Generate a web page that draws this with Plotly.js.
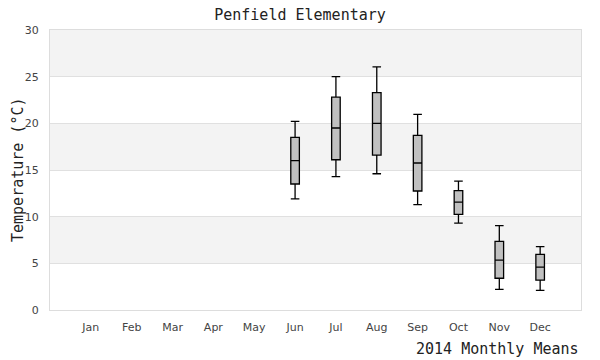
<!DOCTYPE html>
<html>
<head>
<meta charset="utf-8">
<script src="https://cdn.plot.ly/plotly-3.0.1.min.js"></script>
<style>html,body{margin:0;padding:0;background:#fff}#chart{width:600px;height:360px}</style>
</head>
<body>
<div id="chart"></div>
<script>
var months = ["Jan","Feb","Mar","Apr","May","Jun","Jul","Aug","Sep","Oct","Nov","Dec"];
var dataMonths = ["Jun","Jul","Aug","Sep","Oct","Nov","Dec"];
var lowerWhisker = [11.9, 14.3, 14.6, 11.3, 9.3, 2.2, 2.1];
var q1 = [13.5, 16.1, 16.6, 12.75, 10.25, 3.4, 3.2];
var medianVals = [16.0, 19.5, 20.0, 15.75, 11.55, 5.35, 4.6];
var q3 = [18.5, 22.8, 23.3, 18.7, 12.8, 7.35, 5.95];
var upperWhisker = [20.2, 25.0, 26.05, 20.95, 13.8, 9.05, 6.8];
var yTicks = [0, 5, 10, 15, 20, 25, 30];

var trace = {
  type: 'box',
  x: dataMonths,
  q1: q1,
  median: medianVals,
  q3: q3,
  lowerfence: lowerWhisker,
  upperfence: upperWhisker,
  width: 0.21,
  whiskerwidth: 1,
  fillcolor: '#c0c0c0',
  line: {color: '#000000', width: 1.3},
  showlegend: false,
  hoverinfo: 'none'
};

var shapes = [];
for (var i = 1; i < yTicks.length; i += 2) {
  shapes.push({type: 'rect', xref: 'paper', yref: 'y', x0: 0, x1: 1,
    y0: yTicks[i], y1: yTicks[i + 1], fillcolor: '#f3f3f3', line: {width: 0}, layer: 'below'});
}

var monoFont = {family: 'DejaVu Sans Mono, monospace', size: 15, color: '#222222'};

var layout = {
  width: 600, height: 360,
  margin: {l: 50, r: 19, t: 30, b: 50},
  paper_bgcolor: '#ffffff', plot_bgcolor: '#ffffff',
  font: {family: 'DejaVu Sans, sans-serif', size: 11, color: '#444444'},
  title: {text: 'Penfield Elementary', x: 0.5, xref: 'container', xanchor: 'center',
    y: 0.96, yref: 'container', yanchor: 'middle', font: monoFont},
  xaxis: {type: 'category', categoryorder: 'array', categoryarray: months,
    tickvals: months, ticktext: months,
    range: [-1, 12], showgrid: false, zeroline: false,
    showline: true, mirror: true, linecolor: '#dddddd', linewidth: 1,
    ticks: 'outside', ticklen: 7, tickcolor: 'rgba(0,0,0,0)',
    tickfont: {family: 'DejaVu Sans, sans-serif', size: 11, color: '#444444'}},
  yaxis: {range: [0, 30], tickvals: yTicks, showgrid: true, gridcolor: '#e0e0e0', gridwidth: 1,
    zeroline: false, showline: true, mirror: true, linecolor: '#dddddd', linewidth: 1,
    ticks: 'outside', ticklen: 8, tickcolor: 'rgba(0,0,0,0)',
    tickfont: {family: 'DejaVu Sans, sans-serif', size: 11, color: '#444444'}},
  shapes: shapes,
  annotations: [
    {text: '2014 Monthly Means', xref: 'paper', yref: 'paper', x: 1, xanchor: 'right',
      y: 0, yanchor: 'top', yshift: -28, showarrow: false, font: monoFont},
    {text: 'Temperature (°C)', xref: 'paper', yref: 'paper', x: 0, xanchor: 'center', xshift: -32,
      y: 0.5, yanchor: 'middle', textangle: -90, showarrow: false, font: monoFont}
  ]
};

Plotly.newPlot('chart', [trace], layout, {displayModeBar: false, staticPlot: true});
</script>
</body>
</html>
